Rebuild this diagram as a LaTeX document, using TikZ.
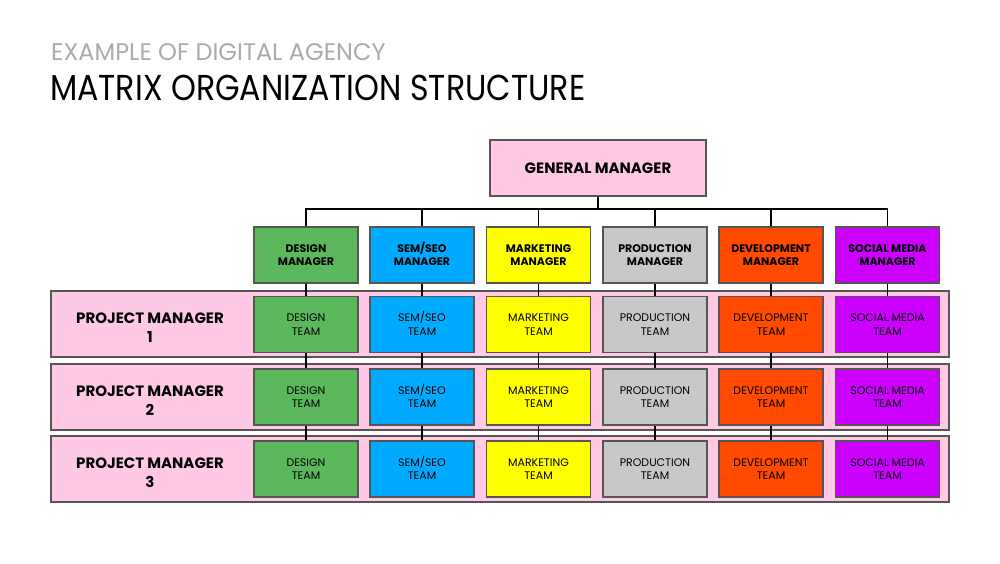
\documentclass[tikz,border=0pt]{standalone}
\usepackage{fontspec}
\setmainfont{Poppins}
\newfontfamily\titlefont[FakeStretch=0.88]{Poppins}
\definecolor{pinkbg}{HTML}{FFC9E6}
\definecolor{cgreen}{HTML}{5CB85C}
\definecolor{cblue}{HTML}{00AAFF}
\definecolor{cyellow}{HTML}{FFFF00}
\definecolor{cgray}{HTML}{C8C8C8}
\definecolor{corange}{HTML}{FF4A00}
\definecolor{cmagenta}{HTML}{CC00FF}
\definecolor{titlegray}{HTML}{ABABAB}
\definecolor{edgegray}{HTML}{555555}
\begin{document}
\begin{tikzpicture}[x=1pt,y=-1pt,
  box/.style={draw=edgegray,line width=1.3pt,minimum width=104pt,minimum height=56pt,inner sep=0pt,align=center},
  mgrbox/.style={box,font=\fontsize{11}{12.5}\selectfont\bfseries},
  teambox/.style={box,font=\fontsize{11}{13.5}\selectfont},
  band/.style={draw=edgegray,line width=1.3pt,fill=pinkbg,minimum width=898pt,minimum height=66pt,inner sep=0pt},
  pmtext/.style={font=\fontsize{15}{19}\selectfont\bfseries,align=center},
  conn/.style={draw=black,line width=1.5pt}]
\useasboundingbox (0,0) rectangle (1000,563);
\fill[white] (0,0) rectangle (1000,563);
\node[anchor=base west,inner sep=0pt,text=titlegray,font=\fontsize{24}{24}\selectfont] (sub) at (51,60) {EXAMPLE OF DIGITAL AGENCY};
\node[anchor=base west,inner sep=0pt,text=black,font=\fontsize{36}{36}\titlefont] (title) at (50,100) {MATRIX ORGANIZATION STRUCTURE};
\node[box,fill=pinkbg,minimum width=216pt,minimum height=56pt,font=\fontsize{15}{18}\selectfont\bfseries] (gm) at (598,168) {GENERAL MANAGER};
% bands
\foreach \r/\y in {1/324,2/397,3/469}{
  \node[band] (band\r) at (500,\y) {};
  \node[pmtext] (pm\r) at (150,\y+4) {PROJECT MANAGER\\\r};
}
% managers
\foreach \c/\x/\col/\txt in {1/306/cgreen/{DESIGN\\MANAGER},2/422/cblue/{SEM\smash{/}SEO\\MANAGER},3/538.5/cyellow/{MARKETING\\MANAGER},4/655/cgray/{PRODUCTION\\MANAGER},5/771/corange/{DEVELOPMENT\\MANAGER},6/887.5/cmagenta/{SOCIAL MEDIA\\MANAGER}}{
  \node[mgrbox,fill=\col] (m\c) at (\x,255) {\txt};
}
\coordinate (bus) at (598,209);
\draw[conn] (gm.south) -- (bus);
\foreach \c in {1,...,6}{\draw[conn] (m\c.north) |- (bus);}
% teams
\foreach \c/\x/\col/\txt in {1/306/cgreen/{DESIGN\\TEAM},2/422/cblue/{SEM\smash{/}SEO\\TEAM},3/538.5/cyellow/{MARKETING\\TEAM},4/655/cgray/{PRODUCTION\\TEAM},5/771/corange/{DEVELOPMENT\\TEAM},6/887.5/cmagenta/{SOCIAL MEDIA\\TEAM}}{
  \foreach \r/\y in {1/324.5,2/397,3/469}{
    \node[teambox,fill=\col] (t\r\c) at (\x,\y) {\txt};
  }
  \draw[conn] (m\c.south) -- (t1\c.north);
  \draw[conn] (t1\c.south) -- (t2\c.north);
  \draw[conn] (t2\c.south) -- (t3\c.north);
}
\end{tikzpicture}
\end{document}
